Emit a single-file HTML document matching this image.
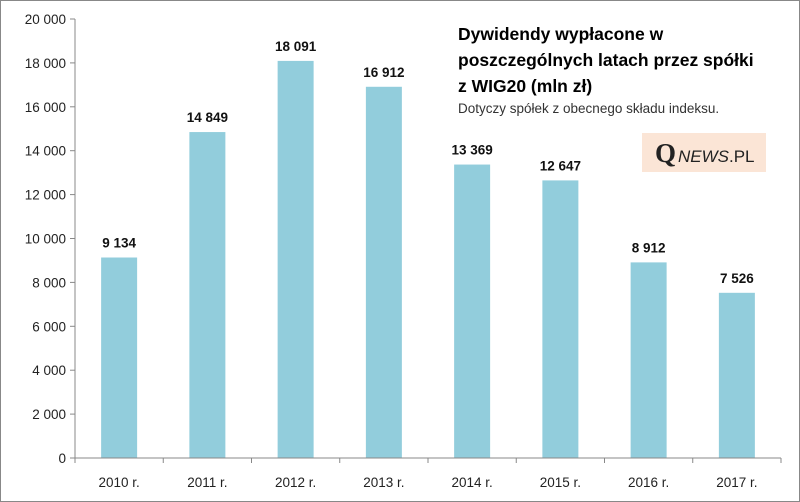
<!DOCTYPE html>
<html><head><meta charset="utf-8"><style>
body{margin:0;background:#fff}
svg{display:block;font-family:"Liberation Sans",Calibri,sans-serif}
</style></head><body>
<svg id="c" width="800" height="502">
<rect x="0.5" y="0.5" width="799" height="501" fill="#fff" stroke="#888"/>
<g id="plot"></g>
<text x="458" y="40" font-size="17.5" font-weight="bold">Dywidendy wypłacone w</text>
<text x="458" y="66" font-size="17.5" font-weight="bold">poszczególnych latach przez spółki</text>
<text x="458" y="92" font-size="17.5" font-weight="bold">z WIG20 (mln zł)</text>
<text x="458" y="113" font-size="13.5" fill="#333">Dotyczy spółek z obecnego składu indeksu.</text>
<rect x="642" y="133" width="124" height="39" fill="#fbe5d6"/>
<text x="655" y="162" font-family="Liberation Serif,serif" font-size="27" font-weight="bold" fill="#222">Q</text>
<text x="678" y="162" font-size="17" fill="#222"><tspan font-style="italic">NEWS</tspan>.PL</text>
</svg>
<script>
const categories=["2010 r.","2011 r.","2012 r.","2013 r.","2014 r.","2015 r.","2016 r.","2017 r."];
const values=[9134,14849,18091,16912,13369,12647,8912,7526];
const valueLabels=["9 134","14 849","18 091","16 912","13 369","12 647","8 912","7 526"];
const yTicks=[0,2000,4000,6000,8000,10000,12000,14000,16000,18000,20000];
const yTickLabels=["0","2 000","4 000","6 000","8 000","10 000","12 000","14 000","16 000","18 000","20 000"];
const NS="http://www.w3.org/2000/svg";
const g=document.getElementById('plot');
const x0=75,x1=781,y0=458,yTop=19,yMax=20000;
const band=(x1-x0)/categories.length;
const y=v=>y0-(v/yMax)*(y0-yTop);
const xc=i=>x0+band*(i+0.5);
function mk(t,a){const e=document.createElementNS(NS,t);for(const k in a)e.setAttribute(k,a[k]);g.appendChild(e);return e;}
yTicks.forEach((v,i)=>{
 const l=mk('line',{x1:x0-5,x2:x0,y1:y(v),y2:y(v),stroke:'#888'});
 
 
 const t=mk('text',{x:x0-9,y:y(v)+5,'text-anchor':'end','font-size':'13.5',fill:'#222'});
 t.textContent=yTickLabels[i];
 
 
});
const ya=mk('line',{x1:x0,x2:x0,y1:yTop,y2:y0,stroke:'#888'});


values.forEach((v,i)=>{
 const b=mk('rect',{x:xc(i)-18,y:y(v),width:36,height:y0-y(v),fill:'#92cddc'});
 
 
 const t=mk('text',{x:xc(i),y:y(v)-10,'text-anchor':'middle','font-size':'13.5','font-weight':'bold',fill:'#111'});
 t.textContent=valueLabels[i];
 
 
 const c=mk('text',{x:xc(i),y:487,'text-anchor':'middle','font-size':'13.5',fill:'#222'});
 c.textContent=categories[i];
 
 
});
for(let i=0;i<=categories.length;i++){
 const l=mk('line',{x1:x0+band*i,x2:x0+band*i,y1:y0,y2:y0+5,stroke:'#888'});
 
 
}
const xa=mk('line',{x1:x0,x2:x1,y1:y0,y2:y0,stroke:'#888'});


</script>
</body></html>
